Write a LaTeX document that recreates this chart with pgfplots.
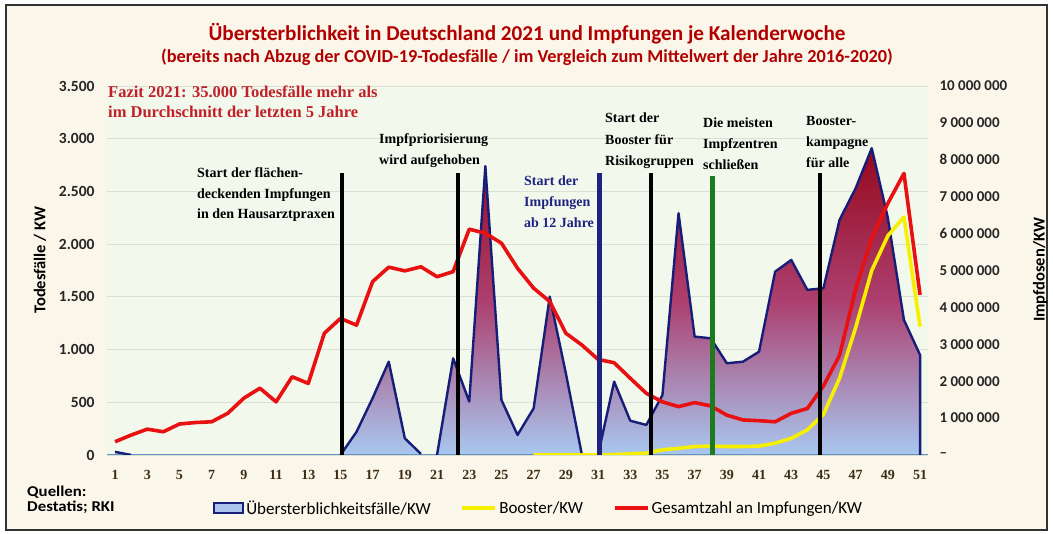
\documentclass[border=0pt]{standalone}
\usepackage{pgfplots}
\pgfplotsset{compat=1.18}
\usepackage{fontspec}
\setmainfont{Carlito}
\newfontfamily\serifb{Liberation Serif}
\definecolor{cream}{RGB}{251,246,234}
\definecolor{plotbg}{RGB}{243,248,236}
\definecolor{gridc}{RGB}{218,224,212}
\definecolor{navyc}{RGB}{22,30,120}
\definecolor{baseblue}{RGB}{100,145,190}
\definecolor{areatop}{RGB}{150,8,28}
\definecolor{areamid}{RGB}{172,64,112}
\definecolor{areabot}{RGB}{168,200,240}
\definecolor{legblue}{RGB}{170,196,236}
\definecolor{titlered}{RGB}{178,0,0}
\definecolor{fazitred}{RGB}{192,32,40}
\definecolor{linered}{RGB}{232,16,16}
\definecolor{lineyellow}{RGB}{246,240,0}
\definecolor{greenc}{RGB}{30,122,30}
\definecolor{tickbrown}{RGB}{60,45,20}
\definecolor{annblue}{RGB}{30,35,130}

\pgfplotstableread{
x y
1 30
2 0
3 0
4 0
5 0
6 0
7 0
8 0
9 0
10 0
11 0
12 0
13 0
14 0
15 0
16 220
17 540
18 885
19 158
20 10
21 0
22 917
23 506
24 2740
25 522
26 190
27 443
28 1502
29 775
30 0
31 0
32 696
33 325
34 285
35 569
36 2293
37 1123
38 1107
39 870
40 885
41 980
42 1739
43 1850
44 1566
45 1582
46 2230
47 2530
48 2910
49 2250
50 1281
51 949
}\excess

\pgfplotstableread{
x y
1 30
2 0
2.5 nan
15 0
16 220
17 540
18 885
19 158
20 10
20.5 nan
21 0
22 917
23 506
24 2740
25 522
26 190
27 443
28 1502
29 775
30 0
30.5 nan
31 0
32 696
33 325
34 285
35 569
36 2293
37 1123
38 1107
39 870
40 885
41 980
42 1739
43 1850
44 1566
45 1582
46 2230
47 2530
48 2910
49 2250
50 1281
51 949
51 0
}\excessline

\pgfplotstableread{
x y
1 0.36
2 0.54
3 0.70
4 0.63
5 0.84
6 0.88
7 0.90
8 1.13
9 1.54
10 1.81
11 1.44
12 2.12
13 1.94
14 3.30
15 3.70
16 3.52
17 4.70
18 5.09
19 4.99
20 5.10
21 4.83
22 4.97
23 6.12
24 6.01
25 5.74
26 5.06
27 4.52
28 4.16
29 3.30
30 2.98
31 2.59
32 2.50
33 2.08
34 1.67
35 1.44
36 1.31
37 1.42
38 1.33
39 1.08
40 0.95
41 0.93
42 0.90
43 1.13
44 1.26
45 1.87
46 2.70
47 4.50
48 5.87
49 6.82
50 7.63
51 4.34
}\total

\pgfplotstableread{
x y
27 0.00
28 0.00
29 0.00
30 0.00
31 0.00
32 0.01
33 0.03
34 0.05
35 0.14
36 0.18
37 0.23
38 0.24
39 0.23
40 0.23
41 0.24
42 0.32
43 0.45
44 0.68
45 1.10
46 2.08
47 3.45
48 5.00
49 5.94
50 6.45
51 3.48
}\booster

\begin{document}
\begin{tikzpicture}
\path[use as bounding box] (0pt,0pt) rectangle (1053pt,534pt);
\fill[white] (0pt,0pt) rectangle (1053pt,534pt);
\fill[cream] (6pt,4pt) rectangle (1047pt,529pt);
\draw[line width=1.6pt, black!80] (6pt,4pt) rectangle (1047pt,529pt);

\begin{axis}[
  at={(107pt,79pt)}, anchor=south west, scale only axis,
  width=821.1pt, height=369pt,
  xmin=0.5, xmax=51.5, ymin=0, ymax=3500,
  axis background/.style={fill=plotbg},
  axis line style={draw=none},
  tick style={draw=none},
  ymajorgrids, grid style={gridc, line width=0.9pt},
  ytick={0,500,...,3500},
  yticklabels={0,500,1.000,1.500,2.000,2.500,3.000,3.500},
  xtick={1,3,...,51},
  /pgf/number format/assume math mode=true,
  yticklabel style={font=\fontsize{15.5}{18}\selectfont\bfseries, text=black!85, xshift=-9pt},
  xticklabel style={font=\serifb\bfseries\fontsize{14}{16}\selectfont, text=tickbrown, yshift=-12pt},
]
\addplot[draw=none, top color=areatop, bottom color=areabot, middle color=areamid] table[x=x,y=y] {\excess} \closedcycle;
\draw[baseblue, line width=1.6pt] (axis cs:0.5,0) -- (axis cs:51.5,0);
\addplot[navyc, line width=2.4pt, line join=round, unbounded coords=jump] table[x=x,y=y] {\excessline};
\end{axis}

\begin{axis}[
  at={(107pt,79pt)}, anchor=south west, scale only axis,
  width=821.1pt, height=369pt,
  xmin=0.5, xmax=51.5, ymin=0, ymax=10,
  axis y line*=right, hide x axis,
  y axis line style={draw=none},
  tick style={draw=none},
  ytick={0,1,...,10},
  yticklabels={--,1 000 000,2 000 000,3 000 000,4 000 000,5 000 000,6 000 000,7 000 000,8 000 000,9 000 000,10 000 000},
  yticklabel style={font=\fontsize{15}{18}\selectfont\bfseries, text=black!85, anchor=west, xshift=8pt},
  legend columns=3,
  legend style={draw=none, fill=none, at={(0.129,-0.1436)}, anchor=west, inner sep=0pt,
    font=\fontsize{17}{20}\selectfont,
    /tikz/every even column/.append style={column sep=28pt}},
  legend image code/.code={\draw[#1] (0pt,0pt) -- (33pt,0pt);},
]
\addlegendimage{legend image code/.code={\draw[fill=legblue, draw=navyc, line width=2.2pt] (0pt,-5pt) rectangle (29pt,5pt);}}
\addlegendentry{Übersterblichkeitsfälle/KW}
\addplot[lineyellow, line width=3.6pt, line join=round] table[x=x,y=y] {\booster};
\addlegendentry{Booster/KW}
\addplot[linered, line width=3.6pt, line join=round] table[x=x,y=y] {\total};
\addlegendentry{Gesamtzahl an Impfungen/KW}
\addplot[black, line width=4.5pt, forget plot] coordinates {(15.1,0) (15.1,7.64)};
\addplot[black, line width=4.5pt, forget plot] coordinates {(22.3,0) (22.3,7.64)};
\addplot[annblue, line width=4.5pt, forget plot] coordinates {(31.1,0) (31.1,7.64)};
\addplot[black, line width=4.5pt, forget plot] coordinates {(34.3,0) (34.3,7.64)};
\addplot[greenc, line width=4.5pt, forget plot] coordinates {(38.1,-0.1) (38.1,7.55)};
\addplot[black, line width=4.5pt, forget plot] coordinates {(44.8,0) (44.8,7.64)};
\end{axis}

% titles
\node[anchor=base, text=titlered, font=\fontsize{21.2}{25}\selectfont\bfseries] at (527pt,493pt) {Übersterblichkeit in Deutschland 2021 und Impfungen je Kalenderwoche};
\node[anchor=base, text=titlered, font=\fontsize{18.3}{21}\selectfont\bfseries] at (527pt,471pt) {(bereits nach Abzug der COVID-19-Todesfälle / im Vergleich zum Mittelwert der Jahre 2016-2020)};

% axis labels
\node[rotate=90, font=\fontsize{16.5}{19}\selectfont\bfseries] at (40pt,274pt) {Todesfälle / KW};
\node[rotate=90, font=\fontsize{16.5}{19}\selectfont\bfseries] at (1040pt,264pt) {Impfdosen/KW};

% Fazit
\begin{scope}[every node/.style={anchor=base west, inner sep=0pt, text=fazitred, font=\serifb\bfseries\fontsize{16.5}{19}\selectfont}]
\node at (108pt,436pt) {Fazit 2021: 35.000 Todesfälle mehr als};
\node at (108pt,416pt) {im Durchschnitt der letzten 5 Jahre};
\end{scope}

% annotations
\begin{scope}[every node/.style={anchor=base west, inner sep=0pt, font=\serifb\bfseries\fontsize{14}{17}\selectfont}]
\node at (197pt,356pt) {Start der flächen-};
\node at (197pt,335pt) {deckenden Impfungen};
\node at (197pt,315pt) {in den Hausarztpraxen};
\node at (379pt,390pt) {Impfpriorisierung};
\node at (379pt,369pt) {wird aufgehoben};
\node[text=annblue] at (524pt,348pt) {Start der};
\node[text=annblue] at (524pt,327pt) {Impfungen};
\node[text=annblue] at (524pt,306pt) {ab 12 Jahre};
\node at (605pt,411pt) {Start der};
\node at (605pt,389pt) {Booster für};
\node at (605pt,368pt) {Risikogruppen};
\node at (703pt,406pt) {Die meisten};
\node at (703pt,385pt) {Impfzentren};
\node at (703pt,364pt) {schließen};
\node at (806pt,408pt) {Booster-};
\node at (806pt,387pt) {kampagne};
\node at (806pt,366pt) {für alle};
\end{scope}

% sources
\begin{scope}[every node/.style={anchor=base west, inner sep=0pt, xscale=1.12, font=\fontsize{15}{17}\selectfont\bfseries}]
\node at (27pt,37pt) {Quellen:};
\node at (27pt,22pt) {Destatis; RKI};
\end{scope}
\end{tikzpicture}
\end{document}
